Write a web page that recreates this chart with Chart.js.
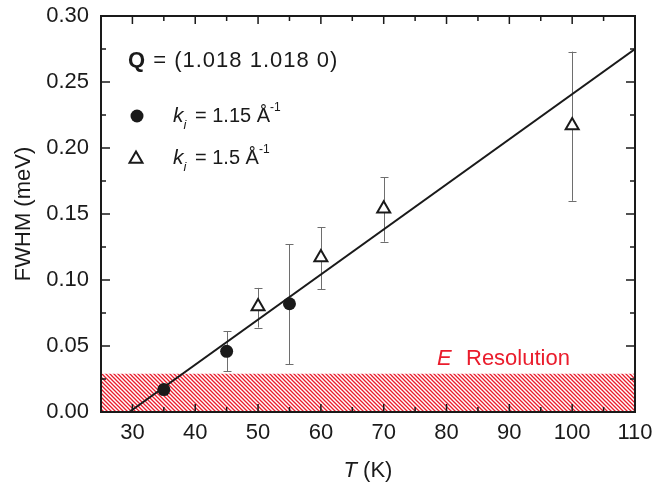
<!DOCTYPE html>
<html>
<head>
<meta charset="utf-8">
<script src="https://cdn.jsdelivr.net/npm/chart.js@4.4.1/dist/chart.umd.min.js"></script>
<style>
  html, body { margin: 0; padding: 0; background: #fff; }
  #wrap { width: 656px; height: 483px; }
</style>
</head>
<body>
<div id="wrap"><canvas id="c" width="656" height="483"></canvas></div>
<script>
// ---- data ----
const circT  = [35, 45, 55];
const circW  = [0.017, 0.046, 0.082];
const circLo = [0.017, 0.031, 0.036];
const circHi = [0.017, 0.061, 0.127];

const triT  = [50, 60, 70, 100];
const triW  = [0.080, 0.117, 0.154, 0.217];
const triLo = [0.064, 0.093, 0.129, 0.160];
const triHi = [0.094, 0.140, 0.178, 0.273];

const fitT = [29.5, 110];
const fitW = [0.0, 0.275];

const resT = [25, 110];
const resW = [0.029, 0.029];

const xTicks = [30, 40, 50, 60, 70, 80, 90, 100, 110];
const xMinor = [30, 35, 40, 45, 50, 55, 60, 65, 70, 75, 80, 85, 90, 95, 100, 105, 110];
const yTicks = [0.00, 0.05, 0.10, 0.15, 0.20, 0.25, 0.30];
const yMinor = [0.025, 0.075, 0.125, 0.175, 0.225, 0.275];

// ---- styles ----
const FONT = '"Liberation Sans", Arial, Helvetica, sans-serif';
const FS = 22;
const RED = '#ea1c2c';
const INK = '#1a1a1a';

function makeHatch() {
  const s = 4;
  const c = document.createElement('canvas');
  c.width = s; c.height = s;
  const g = c.getContext('2d');
  g.strokeStyle = RED;
  g.lineWidth = 1.3;
  g.beginPath();
  g.moveTo(-1, -1); g.lineTo(s + 1, s + 1);
  g.moveTo(-1, s - 1); g.lineTo(1, s + 1);
  g.moveTo(s - 1, -1); g.lineTo(s + 1, 1);
  g.stroke();
  return document.getElementById('c').getContext('2d').createPattern(c, 'repeat');
}

const pts = (xs, ys) => xs.map((x, i) => ({ x: x, y: ys[i] }));

const errorBars = {
  id: 'errorBars',
  beforeDatasetsDraw(chart) {
    const { ctx, scales: { x, y } } = chart;
    ctx.save();
    ctx.strokeStyle = '#6e6e6e';
    ctx.lineWidth = 1;
    const draw = (ts, lo, hi) => {
      ts.forEach((t, i) => {
        if (hi[i] === lo[i]) return;
        const px = Math.round(x.getPixelForValue(t)) + 0.5;
        const y1 = y.getPixelForValue(lo[i]);
        const y2 = y.getPixelForValue(hi[i]);
        ctx.beginPath();
        ctx.moveTo(px, y1); ctx.lineTo(px, y2);
        ctx.moveTo(px - 4, Math.round(y1) + 0.5); ctx.lineTo(px + 4, Math.round(y1) + 0.5);
        ctx.moveTo(px - 4, Math.round(y2) + 0.5); ctx.lineTo(px + 4, Math.round(y2) + 0.5);
        ctx.stroke();
      });
    };
    draw(circT, circLo, circHi);
    draw(triT, triLo, triHi);
    ctx.restore();
  }
};

function runs(ctx, x, y, parts) {
  let cx = x;
  parts.forEach(p => {
    ctx.font = p.f;
    ctx.letterSpacing = p.ls || '0px';
    if (p.at !== undefined) cx = p.at;
    ctx.fillText(p.t, cx, y + (p.dy || 0));
    cx += ctx.measureText(p.t).width;
  });
  ctx.letterSpacing = '0px';
  return cx;
}

const frame = {
  id: 'frame',
  afterDraw(chart) {
    const { ctx, chartArea: a, scales: { x, y } } = chart;
    ctx.save();
    // frame
    ctx.strokeStyle = INK;
    ctx.lineWidth = 2;
    ctx.strokeRect(a.left, a.top, a.right - a.left, a.bottom - a.top);
    // ticks
    ctx.lineWidth = 1.5;
    ctx.beginPath();
    xMinor.forEach(v => {
      const px = x.getPixelForValue(v);
      const L = xTicks.includes(v) ? 8 : 5;
      ctx.moveTo(px, a.bottom); ctx.lineTo(px, a.bottom - L);
      ctx.moveTo(px, a.top); ctx.lineTo(px, a.top + L);
    });
    yTicks.concat(yMinor).forEach(v => {
      const py = y.getPixelForValue(v);
      const L = yTicks.includes(v) ? 9 : 5;
      ctx.moveTo(a.left, py); ctx.lineTo(a.left + L, py);
      ctx.moveTo(a.right, py); ctx.lineTo(a.right - L, py);
    });
    ctx.stroke();

    // texts
    ctx.fillStyle = INK;
    ctx.textBaseline = 'alphabetic';
    ctx.textAlign = 'left';
    runs(ctx, 128, 67, [
      { t: 'Q', f: 'bold ' + FS + 'px ' + FONT, ls: '1px' },
      { t: ' = (1.018 1.018 0)', f: FS + 'px ' + FONT, ls: '1px' }
    ]);
    // legend markers
    ctx.beginPath();
    ctx.arc(137, 116, 6.5, 0, Math.PI * 2);
    ctx.fill();
    ctx.beginPath();
    const r = 7.5, cx = 136, cy = 159;
    for (let k = 0; k < 3; k++) {
      const ang = k * 2 * Math.PI / 3;
      const px = cx + Math.sin(ang) * r, py = cy - Math.cos(ang) * r;
      k === 0 ? ctx.moveTo(px, py) : ctx.lineTo(px, py);
    }
    ctx.closePath();
    ctx.fillStyle = '#fff'; ctx.fill();
    ctx.strokeStyle = INK; ctx.lineWidth = 2; ctx.stroke();
    ctx.fillStyle = INK;

    runs(ctx, 173, 122, [
      { t: 'k', f: 'italic 21px ' + FONT },
      { t: 'i', f: 'italic 13px ' + FONT, dy: 7 },
      { t: '= 1.15 Å', f: '20px ' + FONT, at: 195 },
      { t: '-1', f: '12px ' + FONT, dy: -11 }
    ]);
    runs(ctx, 173, 164, [
      { t: 'k', f: 'italic 21px ' + FONT },
      { t: 'i', f: 'italic 13px ' + FONT, dy: 7 },
      { t: '= 1.5 Å', f: '20px ' + FONT, at: 195 },
      { t: '-1', f: '12px ' + FONT, dy: -11 }
    ]);

    // E Resolution
    ctx.fillStyle = RED;
    runs(ctx, 437, 365, [
      { t: 'E', f: 'italic ' + FS + 'px ' + FONT },
      { t: 'Resolution', f: FS + 'px ' + FONT, at: 466 }
    ]);

    // axis titles
    ctx.fillStyle = INK;
    ctx.font = 'italic ' + FS + 'px ' + FONT;
    const wT = ctx.measureText('T').width;
    ctx.font = FS + 'px ' + FONT;
    const wK = ctx.measureText(' (K)').width;
    const x0 = (a.left + a.right) / 2 - (wT + wK) / 2;
    runs(ctx, x0, 477, [
      { t: 'T', f: 'italic ' + FS + 'px ' + FONT },
      { t: ' (K)', f: FS + 'px ' + FONT }
    ]);
    ctx.save();
    ctx.translate(30, (a.top + a.bottom) / 2);
    ctx.rotate(-Math.PI / 2);
    ctx.textAlign = 'center';
    ctx.font = FS + 'px ' + FONT;
    ctx.fillText('FWHM (meV)', 0, 0);
    ctx.restore();
    ctx.restore();
  }
};

function zeroPad(s) {
  s.paddingTop = 0; s.paddingBottom = 0; s.paddingLeft = 0; s.paddingRight = 0;
}

const chart = new Chart(document.getElementById('c'), {
  type: 'scatter',
  data: {
    datasets: [
      {
        label: 'k_i = 1.5',
        data: pts(triT, triW),
        pointStyle: 'triangle',
        pointRadius: 7.5,
        pointHoverRadius: 7.5,
        backgroundColor: '#fff',
        borderColor: INK,
        borderWidth: 2
      },
      {
        label: 'k_i = 1.15',
        data: pts(circT, circW),
        pointStyle: 'circle',
        pointRadius: 6.5,
        pointHoverRadius: 6.5,
        backgroundColor: INK,
        borderColor: INK,
        borderWidth: 0
      },
      {
        label: 'fit',
        data: pts(fitT, fitW),
        showLine: true,
        pointRadius: 0,
        borderColor: INK,
        borderWidth: 2,
        fill: false
      },
      {
        label: 'E resolution',
        data: pts(resT, resW),
        showLine: true,
        pointRadius: 0,
        borderWidth: 0,
        borderColor: 'rgba(0,0,0,0)',
        backgroundColor: makeHatch(),
        fill: 'origin'
      }
    ]
  },
  options: {
    responsive: false,
    animation: false,
    events: [],
    layout: { padding: { left: 0, right: 21, top: 16, bottom: 0 } },
    plugins: { legend: { display: false }, tooltip: { enabled: false } },
    scales: {
      x: {
        type: 'linear',
        min: 25, max: 110,
        afterBuildTicks: s => { s.ticks = xTicks.map(v => ({ value: v })); },
        afterFit: s => { s.height = 71; zeroPad(s); },
        grid: { display: false, drawTicks: false },
        border: { display: false },
        ticks: { padding: 8, color: INK, font: { family: FONT, size: FS }, maxRotation: 0, autoSkip: false }
      },
      y: {
        type: 'linear',
        min: 0, max: 0.3,
        afterBuildTicks: s => { s.ticks = yTicks.map(v => ({ value: v })); },
        afterFit: s => { s.width = 101; zeroPad(s); },
        grid: { display: false, drawTicks: false },
        border: { display: false },
        ticks: { padding: 12, color: INK, font: { family: FONT, size: FS }, callback: v => v.toFixed(2), autoSkip: false }
      }
    }
  },
  plugins: [errorBars, frame]
});
</script>
</body>
</html>
